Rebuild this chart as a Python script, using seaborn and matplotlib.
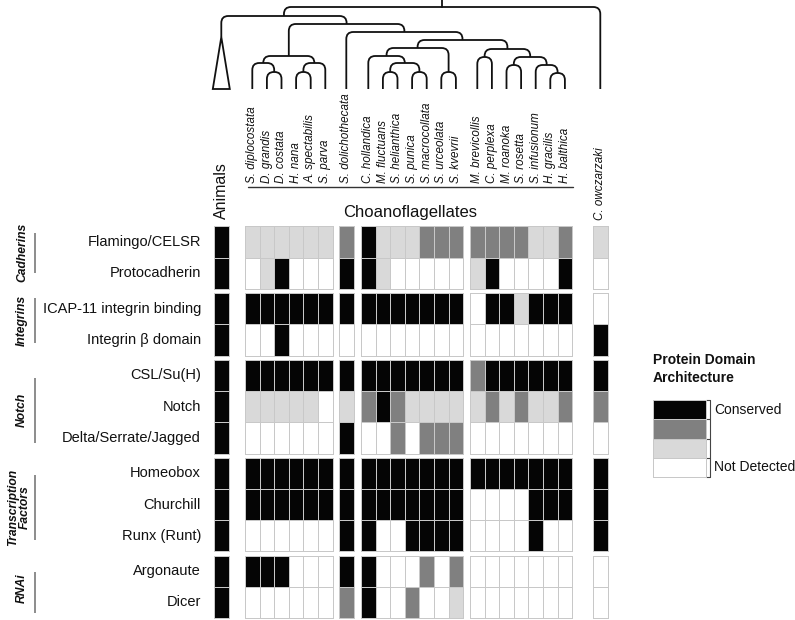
import numpy as np
import pandas as pd
import matplotlib
matplotlib.use("Agg")
import matplotlib.pyplot as plt
from matplotlib.colors import ListedColormap
from matplotlib.path import Path
from matplotlib.patches import PathPatch, Polygon
import seaborn as sns

sns.set_theme(style="white")
plt.rcParams['font.family'] = ['Liberation Sans', 'DejaVu Sans']

# ---------------- data ----------------
animals = ["Animals"]
clade_a = ["S. diplocostata", "D. grandis", "D. costata", "H. nana", "A. spectabilis", "S. parva"]
clade_dol = ["S. dolichothecata"]
clade_b = ["C. hollandica", "M. fluctuans", "S. helianthica", "S. punica",
           "S. macrocollata", "S. urceolata", "S. kvevrii"]
clade_c = ["M. brevicollis", "C. perplexa", "M. roanoka", "S. rosetta",
           "S. infusionum", "H. gracilis", "H. balthica"]
outgroup = ["C. owczarzaki"]
col_groups = [animals, clade_a, clade_dol, clade_b, clade_c, outgroup]
species = [s for g in col_groups for s in g]

row_group_names = ["Cadherins", "Integrins", "Notch", "Transcription\nFactors", "RNAi"]
row_groups = [
    ["Flamingo/CELSR", "Protocadherin"],
    ["ICAP-11 integrin binding", "Integrin \u03b2 domain"],
    ["CSL/Su(H)", "Notch", "Delta/Serrate/Jagged"],
    ["Homeobox", "Churchill", "Runx (Runt)"],
    ["Argonaute", "Dicer"],
]

# 3 = conserved, 2 = dark grey, 1 = light grey, 0 = not detected
flamingo      = [3, 1, 1, 1, 1, 1, 1, 2, 3, 1, 1, 1, 2, 2, 2, 2, 2, 2, 2, 1, 1, 2, 1]
protocadherin = [3, 0, 1, 3, 0, 0, 0, 3, 3, 1, 0, 0, 0, 0, 0, 1, 3, 0, 0, 0, 0, 3, 0]
icap11        = [3, 3, 3, 3, 3, 3, 3, 3, 3, 3, 3, 3, 3, 3, 3, 0, 3, 3, 1, 3, 3, 3, 0]
integrin_b    = [3, 0, 0, 3, 0, 0, 0, 0, 0, 0, 0, 0, 0, 0, 0, 0, 0, 0, 0, 0, 0, 0, 3]
csl           = [3, 3, 3, 3, 3, 3, 3, 3, 3, 3, 3, 3, 3, 3, 3, 2, 3, 3, 3, 3, 3, 3, 3]
notch         = [3, 1, 1, 1, 1, 1, 0, 1, 2, 3, 2, 1, 1, 1, 1, 1, 2, 1, 2, 1, 1, 2, 2]
delta         = [3, 0, 0, 0, 0, 0, 0, 3, 0, 0, 2, 0, 2, 2, 2, 0, 0, 0, 0, 0, 0, 0, 0]
homeobox      = [3, 3, 3, 3, 3, 3, 3, 3, 3, 3, 3, 3, 3, 3, 3, 3, 3, 3, 3, 3, 3, 3, 3]
churchill     = [3, 3, 3, 3, 3, 3, 3, 3, 3, 3, 3, 3, 3, 3, 3, 0, 0, 0, 0, 3, 3, 3, 3]
runx          = [3, 0, 0, 0, 0, 0, 0, 3, 3, 0, 0, 3, 3, 3, 3, 0, 0, 0, 0, 3, 0, 0, 3]
argonaute     = [3, 3, 3, 3, 0, 0, 0, 3, 3, 0, 0, 0, 2, 0, 2, 0, 0, 0, 0, 0, 0, 0, 0]
dicer         = [3, 0, 0, 0, 0, 0, 0, 2, 3, 0, 0, 2, 0, 0, 1, 0, 0, 0, 0, 0, 0, 0, 0]

all_rows = [r for g in row_groups for r in g]
df = pd.DataFrame([flamingo, protocadherin, icap11, integrin_b, csl, notch, delta,
                   homeobox, churchill, runx, argonaute, dicer],
                  index=all_rows, columns=species)

legend_labels = ["Conserved", "", "", "Not Detected"]
legend_levels = [3, 2, 1, 0]

# phylogeny (topology with bar heights in px)
tree = (7, [
    (16, ["Animals",
          (24, [
              (56, [(63, ["S. diplocostata", (72, ["D. grandis", "D. costata"])]),
                    (63, [(72, ["H. nana", "A. spectabilis"]), "S. parva"])]),
              (32, ["S. dolichothecata",
                    (40, [
                        (48, [(56, ["C. hollandica",
                                    (63, [(72, ["M. fluctuans", "S. helianthica"]),
                                          (72, ["S. punica", "S. macrocollata"])])]),
                              (72, ["S. urceolata", "S. kvevrii"])]),
                        (49, [(57, ["M. brevicollis", "C. perplexa"]),
                              (57, [(65, ["M. roanoka", "S. rosetta"]),
                                    (65, ["S. infusionum",
                                          (73, ["H. gracilis", "H. balthica"])])])])
                    ])])
          ])]),
    "C. owczarzaki"])

# ---------------- layout ----------------
W, H = 795, 620
fig = plt.figure(figsize=(W / 100, H / 100), dpi=100)
bg = fig.add_axes([0, 0, 1, 1])
bg.set_xlim(0, W)
bg.set_ylim(H, 0)
bg.axis("off")

col_x0 = [214, 245, 339, 361, 470, 593]
cw = 14.6
row_y0 = [226.5, 293.2, 359.9, 457.8, 555.7]
rh = 31.2

cmap = ListedColormap(["#ffffff", "#d9d9d9", "#808080", "#050505"])

col_centers = {}
for g, x0 in zip(col_groups, col_x0):
    for i, s in enumerate(g):
        col_centers[s] = x0 + (i + 0.5) * cw


def add_block(data, x0, y0, w, h):
    ax = fig.add_axes([x0 / W, 1 - (y0 + h) / H, w / W, h / H])
    sns.heatmap(data, ax=ax, cmap=cmap, vmin=-0.5, vmax=3.5, cbar=False,
                linewidths=0.5, linecolor="#c8c8c8",
                xticklabels=False, yticklabels=False)
    ax.set_xlabel("")
    ax.set_ylabel("")
    ax.collections[0].set_clip_on(False)
    return ax


for rg, y0 in zip(row_groups, row_y0):
    for cg, x0 in zip(col_groups, col_x0):
        block = df.loc[rg, cg]
        add_block(block, x0, y0, cw * len(cg), rh * len(rg))

# row labels
for rg, y0 in zip(row_groups, row_y0):
    for i, r in enumerate(rg):
        bg.text(201, y0 + (i + 0.5) * rh, r, ha="right", va="center",
                fontsize=10.5, color="#111111")

# row group labels and lines
grp_label_y = [252, 320, 410, 507, 588]
grp_line_span = [(233, 273), (298, 343), (378, 443), (475, 540), (572, 613)]
for name, ly, (a, b) in zip(row_group_names, grp_label_y, grp_line_span):
    bg.text(19 if "\n" in name else 22, ly, name, rotation=90, ha="center", va="center",
            fontsize=8.7, fontweight="bold", fontstyle="italic",
            multialignment="center", linespacing=1.05, color="#111111")
    bg.plot([35, 35], [a, b], color="#8c8c8c", lw=1.4, solid_capstyle="butt")

# species labels
for s in species:
    if s == "Animals":
        bg.text(col_centers[s], 219, s, rotation=90, ha="center", va="bottom",
                fontsize=11.5, color="#111111")
    elif s == "C. owczarzaki":
        bg.text(col_centers[s], 220, s, rotation=90, ha="center", va="bottom",
                fontsize=8.4, fontstyle="italic", color="#111111")
    else:
        bg.text(col_centers[s], 183, s, rotation=90, ha="center", va="bottom",
                fontsize=8.4, fontstyle="italic", color="#111111")

bg.plot([248, 573], [187, 187], color="#333333", lw=1.0)
bg.text(410, 212, "Choanoflagellates", ha="center", va="center", fontsize=12,
        color="#111111")

# ---------------- tree ----------------
LEAF_Y = 89
APEX_Y = 37
tree_lw = 1.3


def draw_node(node):
    """returns (x, connection_y)"""
    if isinstance(node, str):
        x = col_centers[node]
        return x, (APEX_Y if node == "Animals" else LEAF_Y)
    y, children = node
    pts = [draw_node(c) for c in children]
    (xl, yl), (xr, yr) = pts[0], pts[-1]
    r = min(7, (xr - xl) / 2)
    verts = [(xl, yl), (xl, y + r), (xl, y), (xl + r, y),
             (xr - r, y), (xr, y), (xr, y + r), (xr, yr)]
    codes = [Path.MOVETO, Path.LINETO, Path.CURVE3, Path.CURVE3,
             Path.LINETO, Path.CURVE3, Path.CURVE3, Path.LINETO]
    bg.add_patch(PathPatch(Path(verts, codes), fill=False, lw=tree_lw,
                           edgecolor="#111111", capstyle="butt"))
    return (xl + xr) / 2, y


root_x, root_y = draw_node(tree)
bg.plot([root_x, root_x], [0, root_y], color="#111111", lw=tree_lw)
ax_x = col_centers["Animals"]
bg.add_patch(Polygon([(ax_x, APEX_Y), (ax_x - 8.5, LEAF_Y), (ax_x + 8.5, LEAF_Y)],
                     closed=True, fill=False, lw=tree_lw, edgecolor="#111111"))

# ---------------- legend ----------------
lx0, ly0, lw_, lh = 653, 400, 53, 77
leg = fig.add_axes([lx0 / W, 1 - (ly0 + lh) / H, lw_ / W, lh / H])
sns.heatmap(pd.DataFrame({"v": legend_levels}), ax=leg, cmap=cmap, vmin=-0.5, vmax=3.5,
            cbar=False, linewidths=0.5, linecolor="#c8c8c8",
            xticklabels=False, yticklabels=False)
leg.set_xlabel("")
leg.set_ylabel("")
leg.collections[0].set_clip_on(False)

bg.text(lx0, 369, "Protein Domain\nArchitecture", ha="left", va="center",
        fontsize=10, fontweight="bold", linespacing=1.35, color="#111111")
bx = 710
bg.plot([bx, bx], [ly0, ly0 + lh], color="#444444", lw=0.8)
for k in range(5):
    yy = ly0 + k * lh / 4
    bg.plot([lx0 + lw_, bx], [yy, yy], color="#444444", lw=0.8)
for k, lab in enumerate(legend_labels):
    if lab:
        bg.text(714, ly0 + (k + 0.5) * lh / 4, lab, ha="left", va="center",
                fontsize=10, color="#111111")

fig.savefig("out.png", dpi=100)
